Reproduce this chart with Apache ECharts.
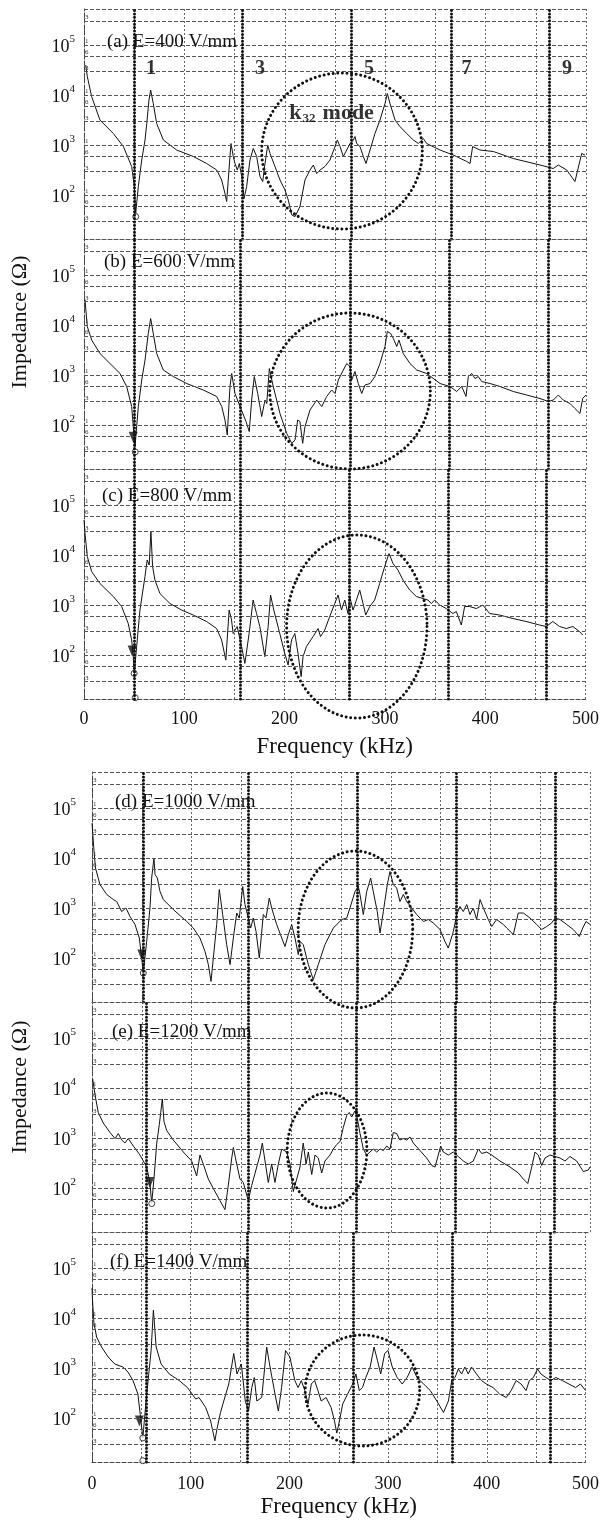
<!DOCTYPE html>
<html><head><meta charset="utf-8">
<script src="https://cdn.jsdelivr.net/npm/echarts@6/dist/echarts.min.js"></script>
<style>html,body{margin:0;padding:0;background:#fff;}#c{width:602px;height:1525px;}</style>
</head><body><div id="c"></div>
<script>
// ---------- data ----------
const panelLabels = ['(a) E=400 V/mm','(b) E=600 V/mm','(c) E=800 V/mm','(d) E=1000 V/mm','(e) E=1200 V/mm','(f) E=1400 V/mm'];
const xTickLabels = [0,100,200,300,400,500];
const yTickExponents = [2,3,4,5];
const gridLineValues = [300000,100000,60000,30000,10000,6000,3000,1000,600,300,100,60,30];
const gridLineTags   = ['3','1','6','3','1','6','3','1','6','3','1','6','3'];
const harmonicNames = ['1','3','5','7','9'];
const harmonicLabelFreq = [66.7,175.3,283.9,381,481];
const harmonicLabelZ = 33000;
const kModeAnchor = [204, 4365];

// impedance curves: [frequency kHz, impedance Ohm]
const curveA = [[1.7,39800],[3.3,23400],[7.6,9330],[15.9,3160],[29.2,1700],[39.2,933],[47.5,372],[50.1,148],[51.5,43],[54.1,148],[57.5,501],[60.8,1259],[62.5,2692],[64.7,7943],[66.4,12589],[69,6761],[72.4,2692],[79,1259],[92.3,794],[108.9,589],[122.2,427],[132.2,316],[137.1,200],[140.4,107],[142.1,74],[145.4,589],[146.4,1072],[148.7,589],[150.4,427],[152.7,316],[154.7,427],[157.1,234],[159.4,85],[162,148],[165.3,501],[168.6,851],[172,589],[175.3,234],[178,186],[180.3,427],[183,1000],[185.3,676],[190.2,372],[195.2,200],[200.2,126],[203.5,79],[206.9,40],[210.2,37],[215.1,59],[220.1,200],[225.1,316],[228.4,398],[231.8,269],[235.1,316],[240,372],[245,501],[250,933],[252.3,1259],[255,933],[258.3,589],[261.6,794],[265,1072],[268.3,1259],[269.9,1479],[271.6,1072],[274.9,933],[278.2,589],[280.9,427],[284.9,794],[289.8,1698],[294.8,3162],[299.8,6761],[302.1,10715],[304.8,6761],[309.8,3162],[314.7,2344],[321.4,1698],[328,1259],[333,1072],[338,1349],[341.3,1072],[354.6,794],[367.8,631],[381.2,468],[384.5,427],[387.1,933],[394.4,794],[407.7,741],[427.6,537],[454.2,398],[467.4,339],[472.4,398],[480.8,316],[489,186],[495.7,676],[499,631]];
const curveB = [[1,31623],[3.3,9333],[7.6,5012],[15.9,2692],[25.9,1698],[35.9,1072],[42.5,589],[47.5,234],[49.1,93],[50.8,37],[54.1,234],[57.5,794],[60.8,1995],[64,6761],[66.4,13490],[69,6761],[72.4,2692],[79,1259],[88.9,933],[102.3,676],[118.8,501],[132.2,372],[137.2,234],[140.4,126],[142.7,63],[145.4,589],[147.1,1072],[150.4,427],[155.4,234],[161.4,117],[164.6,74],[167,316],[169.6,933],[173,427],[177,148],[180.3,316],[182,269],[184.6,1349],[188.5,589],[195.2,170],[201.9,68],[206.9,43],[210.2,50],[212.8,126],[215.1,117],[217.8,43],[220.1,93],[225.1,200],[231.8,316],[236.8,234],[241.7,372],[246.7,501],[250,427],[253.3,794],[258.3,1259],[261.7,1698],[264.9,1479],[266.6,794],[269.9,1175],[273.2,676],[276.6,427],[279.9,631],[284.9,676],[289.8,933],[294.8,1698],[299.8,3715],[302.1,7413],[305.5,6761],[308.1,5370],[311.5,3715],[313.7,5012],[318,2692],[324.7,1698],[331.4,1259],[341.3,1072],[354.6,676],[364.5,589],[371.2,468],[376.2,589],[380.5,372],[382.8,933],[386.2,1072],[389.4,851],[392.7,933],[396.1,741],[404.4,676],[414.3,589],[427.6,468],[440.9,398],[454.2,339],[462.5,295],[467.4,316],[472.4,398],[477.4,316],[484.1,269],[489,214],[494,170],[496.7,339],[500,398]];
const curveC = [[0,50119],[1,26915],[3.3,9333],[7.6,4677],[15.9,2692],[29.2,1479],[37.5,933],[44.1,427],[47.5,200],[49.1,93],[50.1,43],[52.5,148],[55.8,794],[60.8,3715],[63,7943],[65,6310],[66.7,29512],[68.4,5888],[70.7,3162],[75.7,1698],[85.7,1072],[97.3,794],[108.9,631],[122.2,468],[132.2,339],[137.2,200],[141.4,79],[144.7,794],[147.1,501],[148.7,269],[152.7,372],[157.1,148],[160.4,68],[164.6,269],[168.6,1259],[172,676],[175.3,372],[180.3,93],[183.6,372],[186,1585],[189.2,794],[195.2,269],[200.2,107],[203.5,63],[206.9,200],[210.2,269],[213.4,107],[215.1,59],[216.5,37],[218.4,93],[221.8,148],[228.4,234],[233.4,339],[235.8,234],[240,316],[245,589],[250,1072],[253.3,1585],[256.7,794],[260,1259],[263.2,676],[264.9,1479],[268.2,794],[271.6,1259],[274.9,1995],[278.2,1072],[280.9,631],[284.9,933],[289.8,1259],[294.8,2692],[299.8,5888],[304.1,10715],[308.1,6761],[313,5012],[318,3162],[324.7,1995],[331.4,1479],[337.9,1349],[342.9,1259],[346.3,1072],[349.6,1259],[354.6,1000],[361.2,851],[367.8,676],[371.2,741],[376.2,398],[379.5,933],[384.5,933],[391.1,851],[397.7,1000],[404.4,676],[414.3,631],[427.6,537],[440.9,468],[454.2,398],[460.9,372],[467.4,468],[474.1,372],[480.8,339],[487.4,372],[494,295],[497.3,251]];
const curveD = [[0,50000],[2,14000],[3.5,6300],[8,2951],[14.8,1862],[21.4,1479],[24.8,1349],[29.8,851],[34.1,1000],[38.2,676],[43.2,468],[47.5,251],[49.9,100],[51.5,50],[54.9,214],[58.2,1000],[59.9,3981],[62.2,10000],[63.3,4677],[65.6,3981],[68.3,2138],[71.6,1479],[81.6,933],[95.1,537],[101.7,398],[108.4,251],[113.5,135],[116.8,74],[119.5,34],[121.8,100],[125.2,468],[127.8,2344],[131.2,741],[135.2,186],[138.6,74],[141.9,251],[145.3,794],[147.9,631],[151.3,2692],[153.6,1175],[156.9,631],[159.3,398],[161.9,631],[164.7,339],[168,100],[172,741],[174.7,631],[178,1585],[180.4,1000],[185.4,468],[190.5,251],[193.8,170],[197.1,295],[200.5,468],[203.8,251],[207.1,117],[208.8,214],[212.1,186],[217.2,74],[222.2,37],[227.2,74],[233.9,186],[242.3,398],[250.7,589],[255.7,631],[259,1000],[264.1,2138],[267.4,2692],[269.1,1862],[272.4,741],[275.8,2138],[279.8,3981],[282.4,2138],[286.4,851],[289.2,316],[292.5,851],[296.5,2951],[299.2,5370],[302.5,2951],[305.9,2512],[309.2,1349],[312.6,1862],[316,1349],[321,1000],[326,741],[332.6,537],[337.7,589],[342.7,501],[349.4,372],[354.4,214],[357.7,158],[362.8,339],[366.2,741],[369.5,1072],[372.8,851],[376.2,1175],[379.5,741],[382.8,1000],[386.2,589],[389.6,1479],[392.9,1000],[397.9,589],[401.3,427],[406.3,589],[413,468],[416.4,398],[423,295],[428,794],[433.1,794],[439.8,631],[446.5,468],[451.5,372],[456.5,427],[461.5,501],[464.9,631],[469.9,589],[476.6,468],[483.2,372],[489.3,269],[492.7,398],[496,537],[500,468]];
const curveE = [[0.7,15136],[3,7413],[6.3,3236],[11.3,1995],[18.1,1288],[23.1,977],[26.4,1230],[29.8,912],[33.1,794],[36.4,977],[41.5,692],[48.2,457],[54.9,263],[58.2,129],[59.9,49],[62.2,151],[65,794],[67.6,1862],[69,3236],[70.6,6026],[72.3,2138],[75,1413],[81.6,912],[91.7,525],[100.1,347],[105.1,174],[108.4,457],[111.7,302],[116.8,151],[121.8,98],[128.5,56],[133.5,37],[136.8,112],[140.3,398],[141.9,646],[145.3,302],[148.6,151],[151.9,129],[156.9,56],[160.3,112],[165.4,263],[168.7,457],[171,794],[173.7,347],[177,129],[180.4,302],[183.7,129],[187.1,302],[190.5,603],[192.1,646],[195.5,525],[198.8,302],[202.1,85],[205.5,151],[208.8,263],[212.1,794],[214.9,302],[217.2,525],[220.6,186],[223.9,457],[227.2,398],[230.6,200],[233.9,347],[239,457],[242.3,603],[245.7,741],[249,851],[252.3,1622],[255.7,2818],[258.3,3236],[260.7,2630],[264.1,3467],[266.4,2455],[269.1,1230],[272.4,603],[275.8,457],[279.1,525],[282.4,603],[285.8,525],[289.2,603],[292.5,562],[295.9,692],[299.2,603],[302.5,1288],[305.9,1230],[309.2,912],[312.6,977],[316,912],[319.3,1047],[322.6,794],[329.3,562],[336,398],[341.1,282],[344.4,263],[347.7,457],[350.1,692],[352.7,525],[357.7,457],[362.8,525],[367.8,427],[372.8,347],[377.8,302],[382.8,347],[387.9,603],[391.3,490],[396.3,525],[401.3,457],[409.6,347],[419.7,263],[428,200],[433.1,151],[437.5,123],[441.5,263],[444.8,525],[448.1,457],[451.5,282],[454.8,398],[459.8,457],[464.9,427],[469.9,398],[474.9,347],[479.9,427],[486.6,347],[493.3,214],[498.3,229],[500,263]];
const curveF = [[0,40000],[0.5,23000],[2,7762],[4.7,4169],[9.7,2630],[16.4,1660],[23.1,1202],[31.4,1047],[36.4,832],[41.5,562],[46.5,302],[48.9,117],[51.5,40],[54.2,162],[57.5,759],[59.9,2239],[62.2,14454],[65,2630],[70,1202],[78.3,759],[88.4,562],[96.7,407],[105.1,240],[108.4,257],[115.2,162],[120.2,87],[124.5,35],[126.8,63],[130.2,129],[133.5,219],[138.6,479],[143.6,1950],[146.9,759],[151.3,1202],[155.3,219],[158.6,138],[161.9,407],[164.4,646],[167,219],[172,257],[177,2630],[180.4,1047],[185.4,302],[188.8,138],[192.1,407],[196.1,2239],[200.5,1660],[205.5,562],[208.8,407],[212.1,562],[215.6,355],[218.9,191],[222.2,479],[225.6,562],[228.9,355],[232.2,219],[237.2,257],[242.3,162],[245.7,87],[248,50],[250.7,87],[254,191],[259,302],[264.1,479],[267.4,759],[270.8,355],[274.1,407],[277.4,646],[281.8,1047],[285.8,2630],[289.2,1413],[292.5,759],[296.5,1950],[299.9,2239],[304.2,1047],[309.2,646],[314.3,479],[319.3,646],[324.3,1047],[329.3,646],[336,479],[342.7,355],[349.4,219],[356.1,129],[361.1,219],[364.5,562],[367.8,646],[371.2,955],[374.5,759],[377.8,1047],[381.2,759],[384.5,1047],[389.6,759],[394.6,562],[399.6,479],[406.3,407],[413,302],[419.7,257],[424.7,355],[429.7,562],[434.7,479],[439.8,355],[443.1,562],[447.1,646],[451.5,955],[454.8,759],[459.8,646],[464.9,562],[469.9,646],[476.6,562],[483.2,479],[489.9,407],[494.9,479],[500,355]];

// markers at the first-mode antiresonance dip
const trianglesA = [];
const trianglesB = [[49,57]];
const trianglesC = [[48,120]];
const trianglesD = [[50,115]];
const trianglesE = [[58,129]];
const trianglesF = [[48,87]];
const circlesA = [[51.5,37]];
const circlesB = [[51,29]];
const circlesC = [[50,43],[51,14]];
const circlesD = [[51.5,50]];
const circlesE = [[60,49]];
const circlesF = [[51.5,40],[51.5,14]];

// harmonic marker lines (kHz) per panel
const harmA = [50.5,158,266,365.5,463.5];
const harmB = [50.5,156,265,364,462.5];
const harmC = [50.5,156,264,363,461];
const harmD = [51.5,157,266,365.5,465];
const harmE = [54,157,265,365,464.5];
const harmF = [55,157,265,364.5,464];

// k32-mode ellipses: [centre kHz, centre Ohm, half-width kHz, half-height decades]
const ellipseA = [257,759,80,1.56];
const ellipseB = [265,479,80,1.56];
const ellipseC = [272,372,70,1.83];
const ellipseD = [264.5,372,57.5,1.57];
const ellipseE = [236,562,40,1.15];
const ellipseF = [274,355,58,1.11];

// ---------- layout ----------
const SERIF = '"Liberation Serif","DejaVu Serif",serif';
const Y_MIN = 13.2, Y_MAX = 525000;
const panels = [
  {grid:{left:84,top:9,width:502,height:230},   curve:curveA, tri:trianglesA, circ:circlesA, ell:ellipseA, harm:harmA, bottom:false, lab:[107,42]},
  {grid:{left:84,top:239,width:502,height:230}, curve:curveB, tri:trianglesB, circ:circlesB, ell:ellipseB, harm:harmB, bottom:false, lab:[104,262]},
  {grid:{left:84,top:469,width:502,height:230}, curve:curveC, tri:trianglesC, circ:circlesC, ell:ellipseC, harm:harmC, bottom:true, lab:[102,496], lm:11, ng:36},
  {grid:{left:92,top:772,width:498,height:230}, curve:curveD, tri:trianglesD, circ:circlesD, ell:ellipseD, harm:harmD, bottom:false, lab:[115,802]},
  {grid:{left:92,top:1002,width:498,height:230},curve:curveE, tri:trianglesE, circ:circlesE, ell:ellipseE, harm:harmE, bottom:false, lab:[112,1032]},
  {grid:{left:92,top:1232,width:498,height:230},curve:curveF, tri:trianglesF, circ:circlesF, ell:ellipseF, harm:harmF, bottom:true, lab:[110,1262], lm:13, ng:33},
];

const grids=[], xAxes=[], yAxes=[], series=[], graphics=[];
const dashGrid = {color:'#555', width:1, type:[4,2]};
const vGrid = {color:'#666', width:1, type:[2,2]};

panels.forEach((p,i)=>{
  grids.push(Object.assign({show:false}, p.grid));
  xAxes.push({
    type:'value', gridIndex:i, min:0, max:500, interval:50,
    axisLine:{show:true, lineStyle:{color:'#444', width:1, type:[4,2]}},
    axisTick:{show:false},
    axisLabel:{show:p.bottom, margin:p.lm||10, color:'#111', fontFamily:SERIF, fontSize:18,
      formatter:v=> xTickLabels.indexOf(v)>=0 ? String(v) : ''},
    splitLine:{show:true, lineStyle:vGrid},
    name:p.bottom?'Frequency (kHz)':'', nameLocation:'middle', nameGap:p.ng||30,
    nameTextStyle:{fontFamily:SERIF, fontSize:23, color:'#111'}
  });
  yAxes.push({
    type:'log', logBase:10, gridIndex:i, min:Y_MIN, max:Y_MAX,
    axisLine:{show:true, lineStyle:{color:'#444', width:1, type:[4,2]}},
    axisTick:{show:false}, splitLine:{show:false}, minorSplitLine:{show:false},
    axisLabel:{margin: i<3 ? 9 : 16, color:'#111',
      formatter:v=>{const e=Math.round(Math.log10(v)*1000)/1000; return (Number.isInteger(e)&&yTickExponents.indexOf(e)>=0)?('{b|10}{s|'+e+'}'):'';},
      rich:{b:{fontFamily:SERIF,fontSize:18,lineHeight:22,verticalAlign:'bottom',color:'#111'},
            s:{fontFamily:SERIF,fontSize:11,lineHeight:22,verticalAlign:'top',color:'#111'}}}
  });
  const ml = [];
  gridLineValues.forEach((v,k)=>ml.push({yAxis:v, lineStyle:dashGrid,
    label:{show:true, formatter:gridLineTags[k], position:'insideStartTop', distance:[1,0], fontSize:7, color:'#333', fontFamily:SERIF}}));
  ml.push({yAxis:Y_MAX, lineStyle:dashGrid, label:{show:false}});
  p.harm.forEach(v=>ml.push({xAxis:v, lineStyle:{color:'#111', width:3, type:[0.01,3.4], cap:'round'}, label:{show:false}}));
  series.push({
    type:'line', xAxisIndex:i, yAxisIndex:i, data:p.curve, showSymbol:false, symbol:'none',
    lineStyle:{color:'#111', width:1}, z:3,
    markLine:{silent:true, symbol:'none', animation:false, data:ml}
  });
  series.push({type:'scatter', xAxisIndex:i, yAxisIndex:i, data:p.tri, symbol:'triangle', symbolRotate:180,
    symbolSize:[9,11], itemStyle:{color:'#111'}, z:4});
  series.push({type:'scatter', xAxisIndex:i, yAxisIndex:i, data:p.circ, symbol:'circle',
    symbolSize:6, itemStyle:{color:'#fff', borderColor:'#111', borderWidth:1}, z:4});
  series.push({
    type:'custom', xAxisIndex:i, yAxisIndex:i, data:[p.ell], encode:{x:0,y:1}, z:5, clip:false,
    renderItem:(params,api)=>{
      const cx=api.value(0), cy=api.value(1), rx=api.value(2), ry=api.value(3);
      const c=api.coord([cx,cy]);
      const rxp=api.coord([cx+rx,cy])[0]-c[0];
      const ryp=c[1]-api.coord([cx,cy*Math.pow(10,ry)])[1];
      const pts=[];
      for(let k=0;k<=180;k++){const t=k/180*2*Math.PI; pts.push([c[0]+rxp*Math.cos(t), c[1]+ryp*Math.sin(t)]);}
      return {type:'polyline', shape:{points:pts}, style:{fill:'none', stroke:'#111', lineWidth:3, lineDash:[0.01,4.6], lineCap:'round'}};
    }
  });
  graphics.push({type:'text', x:p.lab[0], y:p.lab[1], style:{text:panelLabels[i], fontFamily:SERIF, fontSize:19, fill:'#111', verticalAlign:'middle', align:'left'}, z:10});
});

// harmonic order labels and k32 mode label in panel (a)
series.push({
  type:'scatter', xAxisIndex:0, yAxisIndex:0, symbolSize:1, itemStyle:{color:'rgba(0,0,0,0)'}, z:6,
  data:harmonicNames.map((n,k)=>({name:n, value:[harmonicLabelFreq[k], harmonicLabelZ]})),
  label:{show:true, position:'inside', formatter:q=>q.name, fontFamily:SERIF, fontWeight:'bold', fontSize:20, color:'#000'}
});
series.push({
  type:'scatter', xAxisIndex:0, yAxisIndex:0, symbolSize:1, itemStyle:{color:'rgba(0,0,0,0)'}, z:6,
  data:[{name:'k32', value:kModeAnchor}],
  label:{show:true, position:'right', distance:0, formatter:'{k|k}{s|32}{m|mode}',
    rich:{k:{fontFamily:SERIF,fontWeight:'bold',fontSize:22,color:'#000',verticalAlign:'middle',lineHeight:24},
          s:{fontFamily:SERIF,fontWeight:'bold',fontSize:13,color:'#000',verticalAlign:'bottom',lineHeight:24,padding:[0,7,0,1]},
          m:{fontFamily:SERIF,fontWeight:'bold',fontSize:22,color:'#000',verticalAlign:'middle',lineHeight:24}}}
});

graphics.push({type:'text', x:20, y:322, rotation:Math.PI/2, style:{text:'Impedance (\u03A9)', fontFamily:SERIF, fontSize:22, fill:'#111', align:'center', verticalAlign:'middle'}});
graphics.push({type:'text', x:20, y:1087, rotation:Math.PI/2, style:{text:'Impedance (\u03A9)', fontFamily:SERIF, fontSize:22, fill:'#111', align:'center', verticalAlign:'middle'}});

const chart = echarts.init(document.getElementById('c'));
chart.setOption({
  animation:false, backgroundColor:'#fff',
  grid:grids, xAxis:xAxes, yAxis:yAxes, series:series, graphic:graphics
});
</script>
</body></html>
